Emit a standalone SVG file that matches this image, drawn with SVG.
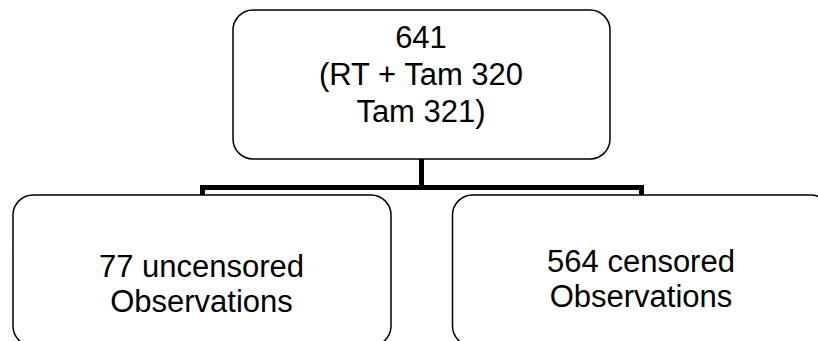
<svg xmlns="http://www.w3.org/2000/svg" width="818" height="341" viewBox="0 0 818 341">
  <style>
    .box { fill: #ffffff; stroke: #000000; stroke-width: 1.5; }
    .label { font-family: "Liberation Sans", Arial, sans-serif; font-size: 31px; fill: #000000; text-anchor: middle; }
    .link { fill: none; stroke: #000000; stroke-width: 5; stroke-linejoin: miter; stroke-linecap: square; }
  </style>
  <rect width="818" height="341" fill="#ffffff"/>

  <!-- tree connectors -->
  <g id="connectors">
    <path class="link" d="M421.5 160 V187.5"/>
    <path class="link" d="M202.5 193 V187.5 H641.5 V193"/>
  </g>

  <g id="root">
    <rect class="box" x="233" y="10" width="377" height="149" rx="20" ry="20"/>
    <text class="label" x="421" y="48">641</text>
    <text class="label" x="421" y="85">(RT + Tam 320</text>
    <text class="label" x="421" y="121.5">Tam 321)</text>
  </g>

  <g id="uncensored">
    <rect class="box" x="13" y="195" width="378" height="151" rx="20" ry="20"/>
    <text class="label" x="201.5" y="277">77 uncensored</text>
    <text class="label" x="201.5" y="312">Observations</text>
  </g>

  <g id="censored">
    <rect class="box" x="452.5" y="195" width="378" height="151" rx="20" ry="20"/>
    <text class="label" x="641" y="271.5">564 censored</text>
    <text class="label" x="641" y="306.5">Observations</text>
  </g>
</svg>
